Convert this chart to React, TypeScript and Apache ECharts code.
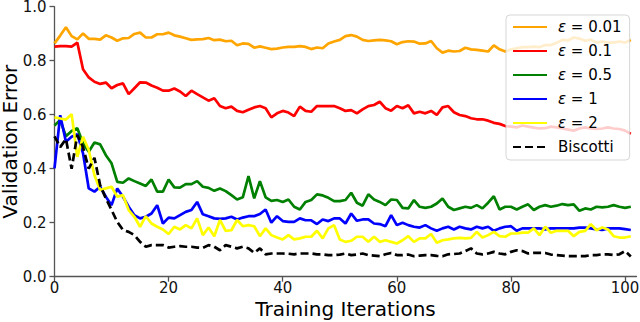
import React, { useEffect, useRef } from "react";
import * as echarts from "echarts";

const xTicks = [0, 20, 40, 60, 80, 100];
const yTicks = [0, 0.2, 0.4, 0.6, 0.8, 1.0];

const seriesNames = ["ε=0.01", "ε=0.1", "ε=0.5", "ε=1", "ε=2", "Biscotti"];
const seriesColors = ["#FFA500", "#FF0000", "#008000", "#0000FF", "#FFFF00", "#000000"];

const eps001 = [
  0.864, 0.893, 0.924, 0.891, 0.879, 0.901, 0.881, 0.881, 0.878, 0.894,
  0.886, 0.874, 0.883, 0.884, 0.899, 0.904, 0.886, 0.886, 0.898, 0.898,
  0.904, 0.894, 0.889, 0.883, 0.877, 0.879, 0.880, 0.884, 0.876, 0.878,
  0.872, 0.874, 0.857, 0.864, 0.862, 0.848, 0.853, 0.848, 0.843, 0.845,
  0.849, 0.851, 0.851, 0.854, 0.851, 0.843, 0.849, 0.846, 0.864, 0.871,
  0.877, 0.891, 0.895, 0.889, 0.877, 0.873, 0.875, 0.877, 0.875, 0.872,
  0.861, 0.869, 0.872, 0.871, 0.863, 0.864, 0.873, 0.846, 0.830, 0.837,
  0.834, 0.836, 0.848, 0.842, 0.840, 0.837, 0.834, 0.857, 0.842, 0.834,
  0.842, 0.846, 0.850, 0.850, 0.852, 0.850, 0.858, 0.858, 0.866, 0.877,
  0.875, 0.886, 0.882, 0.874, 0.878, 0.867, 0.871, 0.867, 0.867, 0.871,
  0.867, 0.877,
];

const eps01 = [
  0.852, 0.854, 0.854, 0.852, 0.867, 0.768, 0.738, 0.722, 0.714, 0.719,
  0.698, 0.710, 0.716, 0.676, 0.698, 0.720, 0.719, 0.708, 0.700, 0.689,
  0.689, 0.697, 0.686, 0.669, 0.689, 0.676, 0.664, 0.652, 0.661, 0.632,
  0.624, 0.630, 0.614, 0.609, 0.618, 0.627, 0.632, 0.624, 0.590, 0.605,
  0.614, 0.608, 0.595, 0.630, 0.614, 0.611, 0.632, 0.632, 0.632, 0.632,
  0.624, 0.614, 0.617, 0.605, 0.620, 0.632, 0.636, 0.648, 0.624, 0.615,
  0.632, 0.624, 0.635, 0.605, 0.611, 0.605, 0.614, 0.599, 0.627, 0.632,
  0.609, 0.599, 0.595, 0.587, 0.583, 0.583, 0.578, 0.570, 0.566, 0.558,
  0.556, 0.553, 0.560, 0.556, 0.552, 0.549, 0.550, 0.556, 0.553, 0.549,
  0.545, 0.541, 0.549, 0.553, 0.549, 0.547, 0.549, 0.553, 0.549, 0.547,
  0.541, 0.529,
];

const eps05 = [
  0.560, 0.580, 0.520, 0.540, 0.550, 0.494, 0.463, 0.497, 0.490, 0.450,
  0.420, 0.351, 0.348, 0.364, 0.354, 0.345, 0.336, 0.360, 0.315, 0.315,
  0.360, 0.331, 0.330, 0.343, 0.343, 0.354, 0.333, 0.329, 0.318, 0.327,
  0.317, 0.302, 0.286, 0.294, 0.373, 0.290, 0.354, 0.294, 0.281, 0.284,
  0.277, 0.286, 0.259, 0.249, 0.277, 0.284, 0.305, 0.301, 0.292, 0.280,
  0.280, 0.284, 0.311, 0.274, 0.263, 0.305, 0.286, 0.277, 0.265, 0.286,
  0.284, 0.255, 0.253, 0.284, 0.259, 0.255, 0.259, 0.271, 0.290, 0.259,
  0.247, 0.253, 0.259, 0.255, 0.265, 0.253, 0.274, 0.298, 0.249, 0.259,
  0.259, 0.249, 0.259, 0.268, 0.247, 0.259, 0.265, 0.259, 0.263, 0.269,
  0.265, 0.268, 0.244, 0.253, 0.249, 0.259, 0.257, 0.259, 0.265, 0.259,
  0.255, 0.259,
];

const eps1 = [
  0.401, 0.598, 0.500, 0.518, 0.528, 0.457, 0.327, 0.315, 0.333, 0.296,
  0.265, 0.327, 0.296, 0.259, 0.228, 0.216, 0.222, 0.234, 0.265, 0.197,
  0.219, 0.216, 0.228, 0.240, 0.247, 0.277, 0.231, 0.224, 0.216, 0.214,
  0.216, 0.222, 0.212, 0.219, 0.224, 0.224, 0.232, 0.249, 0.200, 0.224,
  0.206, 0.203, 0.203, 0.216, 0.209, 0.209, 0.195, 0.212, 0.206, 0.216,
  0.216, 0.197, 0.234, 0.207, 0.212, 0.212, 0.197, 0.195, 0.187, 0.228,
  0.191, 0.200, 0.191, 0.185, 0.182, 0.191, 0.179, 0.170, 0.179, 0.185,
  0.175, 0.185, 0.179, 0.175, 0.185, 0.179, 0.185, 0.170, 0.179, 0.185,
  0.187, 0.170, 0.179, 0.179, 0.179, 0.179, 0.175, 0.179, 0.179, 0.179,
  0.179, 0.179, 0.182, 0.182, 0.179, 0.175, 0.173, 0.179, 0.179, 0.179,
  0.176, 0.173,
];

const eps2 = [
  0.590, 0.586, 0.582, 0.602, 0.444, 0.518, 0.469, 0.376, 0.321, 0.327,
  0.333, 0.296, 0.302, 0.247, 0.222, 0.185, 0.224, 0.197, 0.185, 0.175,
  0.158, 0.185, 0.175, 0.191, 0.179, 0.216, 0.154, 0.182, 0.150, 0.210,
  0.170, 0.172, 0.210, 0.187, 0.191, 0.187, 0.150, 0.179, 0.154, 0.145,
  0.138, 0.154, 0.138, 0.142, 0.148, 0.148, 0.170, 0.142, 0.179, 0.191,
  0.138, 0.129, 0.133, 0.148, 0.148, 0.129, 0.148, 0.129, 0.135, 0.129,
  0.123, 0.135, 0.150, 0.129, 0.142, 0.142, 0.158, 0.126, 0.135, 0.138,
  0.142, 0.144, 0.142, 0.144, 0.166, 0.145, 0.154, 0.166, 0.150, 0.148,
  0.160, 0.160, 0.163, 0.163, 0.179, 0.154, 0.185, 0.163, 0.170, 0.170,
  0.170, 0.150, 0.166, 0.170, 0.195, 0.172, 0.182, 0.175, 0.150, 0.145,
  0.145, 0.150,
];

const biscotti = [
  0.520, 0.480, 0.510, 0.400, 0.525, 0.480, 0.400, 0.440, 0.339, 0.290,
  0.247, 0.203, 0.173, 0.166, 0.154, 0.129, 0.111, 0.117, 0.117, 0.117,
  0.108, 0.111, 0.113, 0.111, 0.111, 0.108, 0.107, 0.117, 0.111, 0.098,
  0.117, 0.111, 0.105, 0.111, 0.105, 0.088, 0.105, 0.083, 0.086, 0.086,
  0.086, 0.085, 0.083, 0.086, 0.086, 0.086, 0.083, 0.083, 0.080, 0.080,
  0.082, 0.086, 0.080, 0.082, 0.086, 0.080, 0.078, 0.076, 0.083, 0.088,
  0.080, 0.080, 0.082, 0.076, 0.078, 0.080, 0.080, 0.077, 0.076, 0.083,
  0.084, 0.086, 0.095, 0.105, 0.086, 0.083, 0.086, 0.092, 0.086, 0.083,
  0.092, 0.098, 0.095, 0.086, 0.088, 0.088, 0.088, 0.082, 0.080, 0.078,
  0.076, 0.076, 0.076, 0.076, 0.080, 0.080, 0.083, 0.083, 0.080, 0.083,
  0.095, 0.075,
];

const allData = [eps001, eps01, eps05, eps1, eps2, biscotti];

const FONT = "DejaVu Sans";

export default function App() {
  const ref = useRef<HTMLDivElement>(null);
  useEffect(() => {
    if (!ref.current) return;
    const chart = echarts.init(ref.current, null, { renderer: "svg" });
    const series = seriesNames.map((name, i) => ({
      name,
      type: "line",
      data: allData[i].map((v, x) => [x, v]),
      symbol: "none",
      showSymbol: false,
      lineStyle: {
        width: 2.7,
        color: seriesColors[i],
        type: name === "Biscotti" ? [8, 4] : "solid",
      },
      itemStyle: { color: seriesColors[i] },
      emphasis: { disabled: true },
    }));
    chart.setOption({
      animation: false,
      backgroundColor: "#ffffff",
      grid: {
        left: 54.5,
        right: 3.5,
        top: 6.7,
        bottom: 45.3,
        containLabel: false,
        outerBoundsMode: "none",
      },
      xAxis: {
        type: "value",
        min: 0,
        max: 102,
        interval: 20,
        name: "Training Iterations",
        nameLocation: "middle",
        nameGap: 22,
        nameMoveOverlap: false,
        nameTextStyle: { fontFamily: FONT, fontSize: 20, color: "#000", lineHeight: 20 },
        axisLine: { show: true, lineStyle: { color: "#555", width: 1.3 } },
        axisTick: { show: true, length: 5, inside: false, customValues: xTicks, lineStyle: { color: "#555", width: 1.3 } },
        axisLabel: { customValues: xTicks, fontFamily: FONT, fontSize: 15, color: "#111", margin: 4 },
        splitLine: { show: false },
      },
      yAxis: {
        type: "value",
        min: 0,
        max: 1,
        interval: 0.2,
        name: "Validation Error",
        nameLocation: "middle",
        nameGap: 34.5,
        nameMoveOverlap: false,
        nameTextStyle: { fontFamily: FONT, fontSize: 20, color: "#000", lineHeight: 20 },
        axisLine: { show: true, lineStyle: { color: "#555", width: 1.3 } },
        axisTick: { show: true, length: 5, inside: false, customValues: yTicks, lineStyle: { color: "#555", width: 1.3 } },
        axisLabel: {
          customValues: yTicks,
          fontFamily: FONT,
          fontSize: 15,
          lineHeight: 12,
          padding: [2, 0, 0, 0],
          color: "#111",
          margin: 8,
          formatter: (v: number) => v.toFixed(1),
        },
        splitLine: { show: false },
      },
      legend: {
        orient: "vertical",
        left: 506,
        top: 15,
        padding: [3, 8, 4, 6],
        itemGap: 6,
        itemWidth: 34,
        itemHeight: 14,
        itemStyle: { opacity: 0 },
        backgroundColor: "rgba(255,255,255,0.8)",
        borderColor: "rgba(204,204,204,0.8)",
        borderWidth: 1,
        borderRadius: 4,
        data: seriesNames,
        formatter: (name: string) => {
          if (name.startsWith("ε=")) {
            return "{sp| }{it|ε} = " + name.slice(2);
          }
          return "{sp| }" + name;
        },
        textStyle: {
          fontFamily: FONT,
          fontSize: 15,
          color: "#000",
          lineHeight: 18,
          rich: {
            sp: { width: 6, fontSize: 15, lineHeight: 18 },
            it: { fontStyle: "italic", fontFamily: FONT, fontSize: 15, lineHeight: 18, color: "#000" },
          },
        },
      },
      series,
    });
    return () => chart.dispose();
  }, []);
  return <div ref={ref} style={{ width: 640, height: 322, position: "fixed", left: 0, top: 0 }} />;
}
